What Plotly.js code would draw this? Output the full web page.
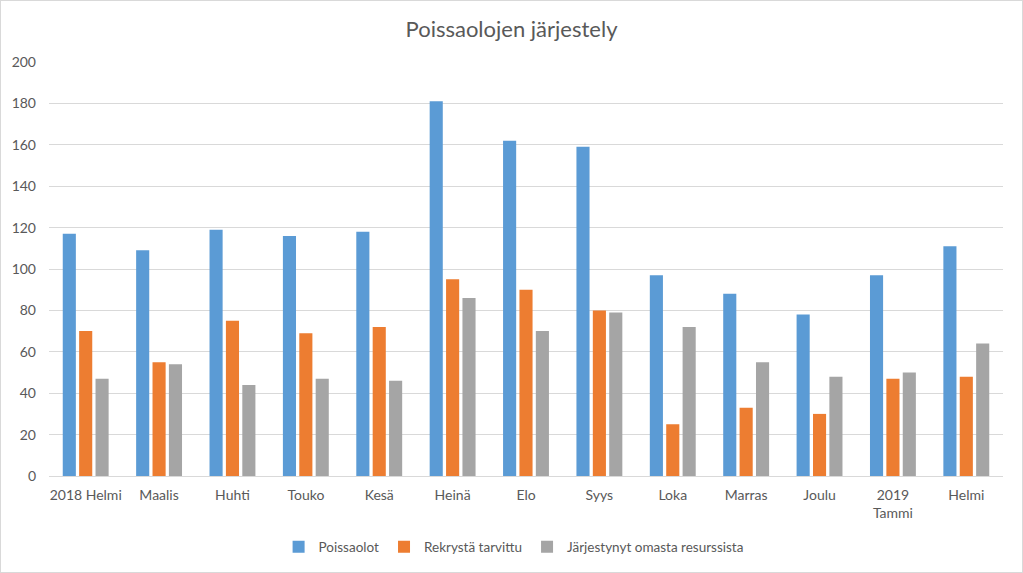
<!DOCTYPE html>
<html>
<head>
<meta charset="utf-8">
<script src="https://cdn.plot.ly/plotly-3.0.1.min.js"></script>
<style>
  html, body { margin: 0; padding: 0; background: #fff; }
  #chart { width: 1023px; height: 573px; box-sizing: border-box; border: 1px solid #d9d9d9; }
</style>
</head>
<body>
<div id="chart"></div>
<script>
const categories = ["2018 Helmi", "Maalis", "Huhti", "Touko", "Kesä", "Heinä", "Elo", "Syys", "Loka", "Marras", "Joulu", "2019<br>Tammi", "Helmi"];
const poissaolot = [117, 109, 119, 116, 118, 181, 162, 159, 97, 88, 78, 97, 111];
const rekrysta = [70, 55, 75, 69, 72, 95, 90, 80, 25, 33, 30, 47, 48];
const jarjestynyt = [47, 54, 44, 47, 46, 86, 70, 79, 72, 55, 48, 50, 64];
const seriesNames = ["Poissaolot", "Rekrystä tarvittu", "Järjestynyt omasta resurssista"];
const yTicks = [0, 20, 40, 60, 80, 100, 120, 140, 160, 180, 200];

const colors = ["#5B9BD5", "#ED7D31", "#A5A5A5"];
const xIdx = categories.map((_, i) => i);
const traces = [poissaolot, rekrysta, jarjestynyt].map((vals, k) => ({
  type: "bar",
  name: seriesNames[k],
  x: xIdx,
  y: vals,
  marker: { color: colors[k] },
  hoverinfo: "y+name"
}));

const font = "Lato, 'Noto Sans', 'DejaVu Sans', sans-serif";
const layout = {
  width: 1021, height: 571,
  margin: { l: 48, r: 19, t: 61, b: 96 },
  paper_bgcolor: "#ffffff",
  plot_bgcolor: "#ffffff",
  font: { family: font, size: 14, color: "#595959" },
  title: {
    text: "Poissaolojen järjestely",
    font: { family: font, size: 22, color: "#595959" },
    x: 0.5, xanchor: "center",
    y: 1 - 28 / 571, yref: "container", yanchor: "middle"
  },
  barmode: "group",
  bargap: 0.33,
  bargroupgap: 0.2,
  xaxis: {
    tickmode: "array",
    tickvals: xIdx,
    ticktext: categories,
    range: [-0.5, categories.length - 0.5],
    showgrid: false,
    showline: true,
    linecolor: "#D9D9D9",
    linewidth: 1,
    ticks: "",
    tickangle: 0,
    ticklabelstandoff: 6,
    tickfont: { family: font, size: 14, color: "#595959" },
    fixedrange: true
  },
  yaxis: {
    range: [0, 200],
    tickmode: "array",
    tickvals: yTicks,
    ticktext: yTicks.map(String),
    showgrid: true,
    gridcolor: "#D9D9D9",
    gridwidth: 1,
    zeroline: false,
    showline: false,
    ticks: "",
    ticklabelstandoff: 12,
    tickfont: { family: font, size: 14, color: "#595959" },
    fixedrange: true
  },
  showlegend: true,
  legend: {
    orientation: "h",
    x: 0.487, xanchor: "center",
    y: 1 - 546 / 571, yref: "container", yanchor: "middle",
    font: { family: font, size: 13.5, color: "#595959" },
    itemwidth: 30,
    traceorder: "normal"
  }
};

Plotly.newPlot("chart", traces, layout, { displayModeBar: false, staticPlot: true });
</script>
</body>
</html>
